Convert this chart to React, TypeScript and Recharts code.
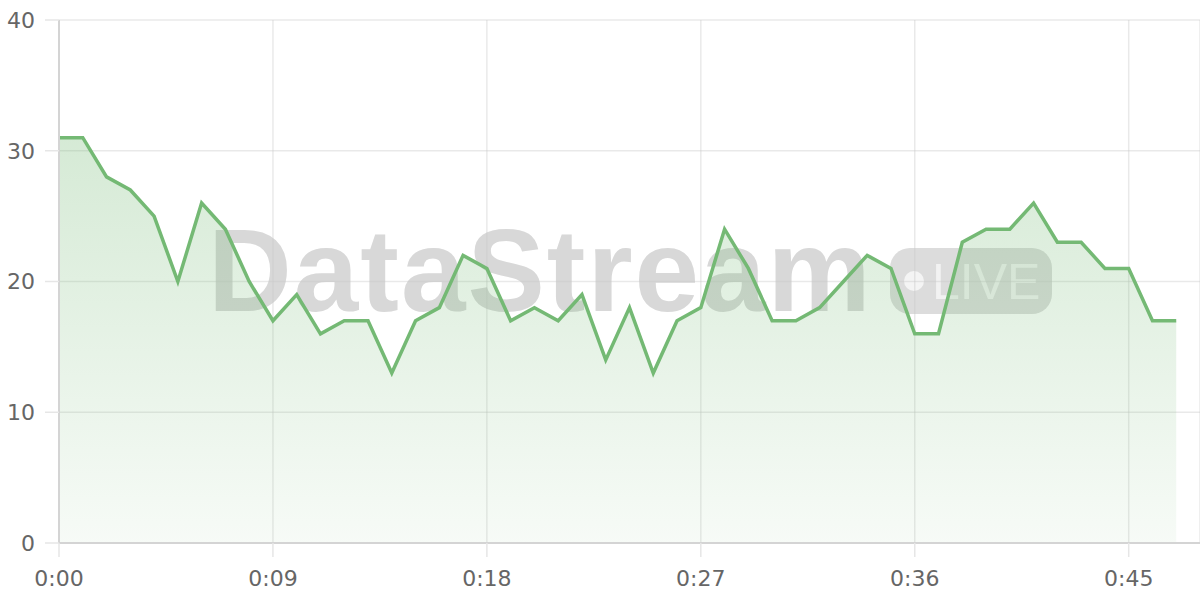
import { AreaChart, Area, XAxis, YAxis, CartesianGrid } from "recharts";

// one reading per second, 0:00 .. 0:47
const seconds = [
  0, 1, 2, 3, 4, 5, 6, 7, 8, 9, 10, 11, 12, 13, 14, 15, 16, 17, 18, 19, 20, 21, 22, 23,
  24, 25, 26, 27, 28, 29, 30, 31, 32, 33, 34, 35, 36, 37, 38, 39, 40, 41, 42, 43, 44, 45, 46, 47,
];
const values = [
  31, 31, 28, 27, 25, 20, 26, 24, 20, 17, 19, 16, 17, 17, 13, 17, 18, 22, 21, 17, 18, 17, 19, 14,
  18, 13, 17, 18, 24, 21, 17, 17, 18, 20, 22, 21, 16, 16, 23, 24, 24, 26, 23, 23, 21, 21, 17, 17,
];
const xTicks = [0, 9, 18, 27, 36, 45];
const yTicks = [0, 10, 20, 30, 40];

const data = seconds.map((t, i) => ({ t, value: values[i] }));

const formatTime = (s: number) => `${Math.floor(s / 60)}:${String(s % 60).padStart(2, "0")}`;

const tickStyle = { fill: "#666", fontSize: 22, fontFamily: "DejaVu Sans, sans-serif" };

const Watermark = () => (
  <div
    style={{
      position: "absolute",
      left: 0,
      top: 0,
      width: 1200,
      height: 600,
      pointerEvents: "none",
    }}
  >
    <div
      style={{
        position: "absolute",
        left: 208,
        top: 206,
        fontFamily: "Liberation Sans, Arial, sans-serif",
        fontWeight: 700,
        fontSize: 116,
        letterSpacing: 2,
        lineHeight: "130px",
        color: "#d8d8d8",
      }}
    >
      DataStream
    </div>
    <div
      style={{
        position: "absolute",
        left: 890,
        top: 248,
        width: 162,
        height: 66,
        borderRadius: 20,
        background: "#dcdcdc",
      }}
    >
      <div
        style={{
          position: "absolute",
          left: 14,
          top: 23,
          width: 20,
          height: 20,
          borderRadius: 10,
          background: "#f4f4f4",
        }}
      />
      <div
        style={{
          position: "absolute",
          left: 42,
          top: 6,
          fontFamily: "Liberation Sans, Arial, sans-serif",
          fontSize: 50,
          lineHeight: "56px",
          color: "#f2f2f2",
        }}
      >
        LIVE
      </div>
    </div>
  </div>
);

export default function App() {
  return (
    <div style={{ position: "absolute", left: 0, top: 0, width: 1200, height: 600, background: "#fff" }}>
      <Watermark />
      <div style={{ position: "absolute", left: 0, top: 0 }}>
        <AreaChart width={1200} height={600} data={data} margin={{ top: 20, right: 0, bottom: 0, left: 0 }}>
          <defs>
            <linearGradient id="fillGreen" x1="0" y1="0" x2="0" y2="1">
              <stop offset="0%" stopColor="#74b974" stopOpacity={0.3} />
              <stop offset="100%" stopColor="#74b974" stopOpacity={0.06} />
            </linearGradient>
          </defs>
          <CartesianGrid stroke="#c8c8c8" strokeOpacity={0.4} strokeWidth={1.5} />
          <XAxis
            dataKey="t"
            type="number"
            domain={[0, 48]}
            ticks={xTicks}
            tickFormatter={formatTime}
            tick={tickStyle}
            tickSize={14}
            tickMargin={13}
            height={57}
            stroke="#d4d4d4"
            strokeWidth={2}
            tickLine={{ stroke: "#e6e6e6", strokeWidth: 1.5 }}
          />
          <YAxis
            domain={[0, 40]}
            ticks={yTicks}
            tick={tickStyle}
            tickSize={14}
            tickMargin={10}
            width={59}
            stroke="#d4d4d4"
            strokeWidth={2}
            tickLine={{ stroke: "#e6e6e6", strokeWidth: 1.5 }}
          />
          <Area
            type="linear"
            dataKey="value"
            stroke="#74b974"
            strokeWidth={3.5}
            fill="url(#fillGreen)"
            fillOpacity={1}
            dot={false}
            activeDot={false}
            isAnimationActive={false}
          />
        </AreaChart>
      </div>
    </div>
  );
}
